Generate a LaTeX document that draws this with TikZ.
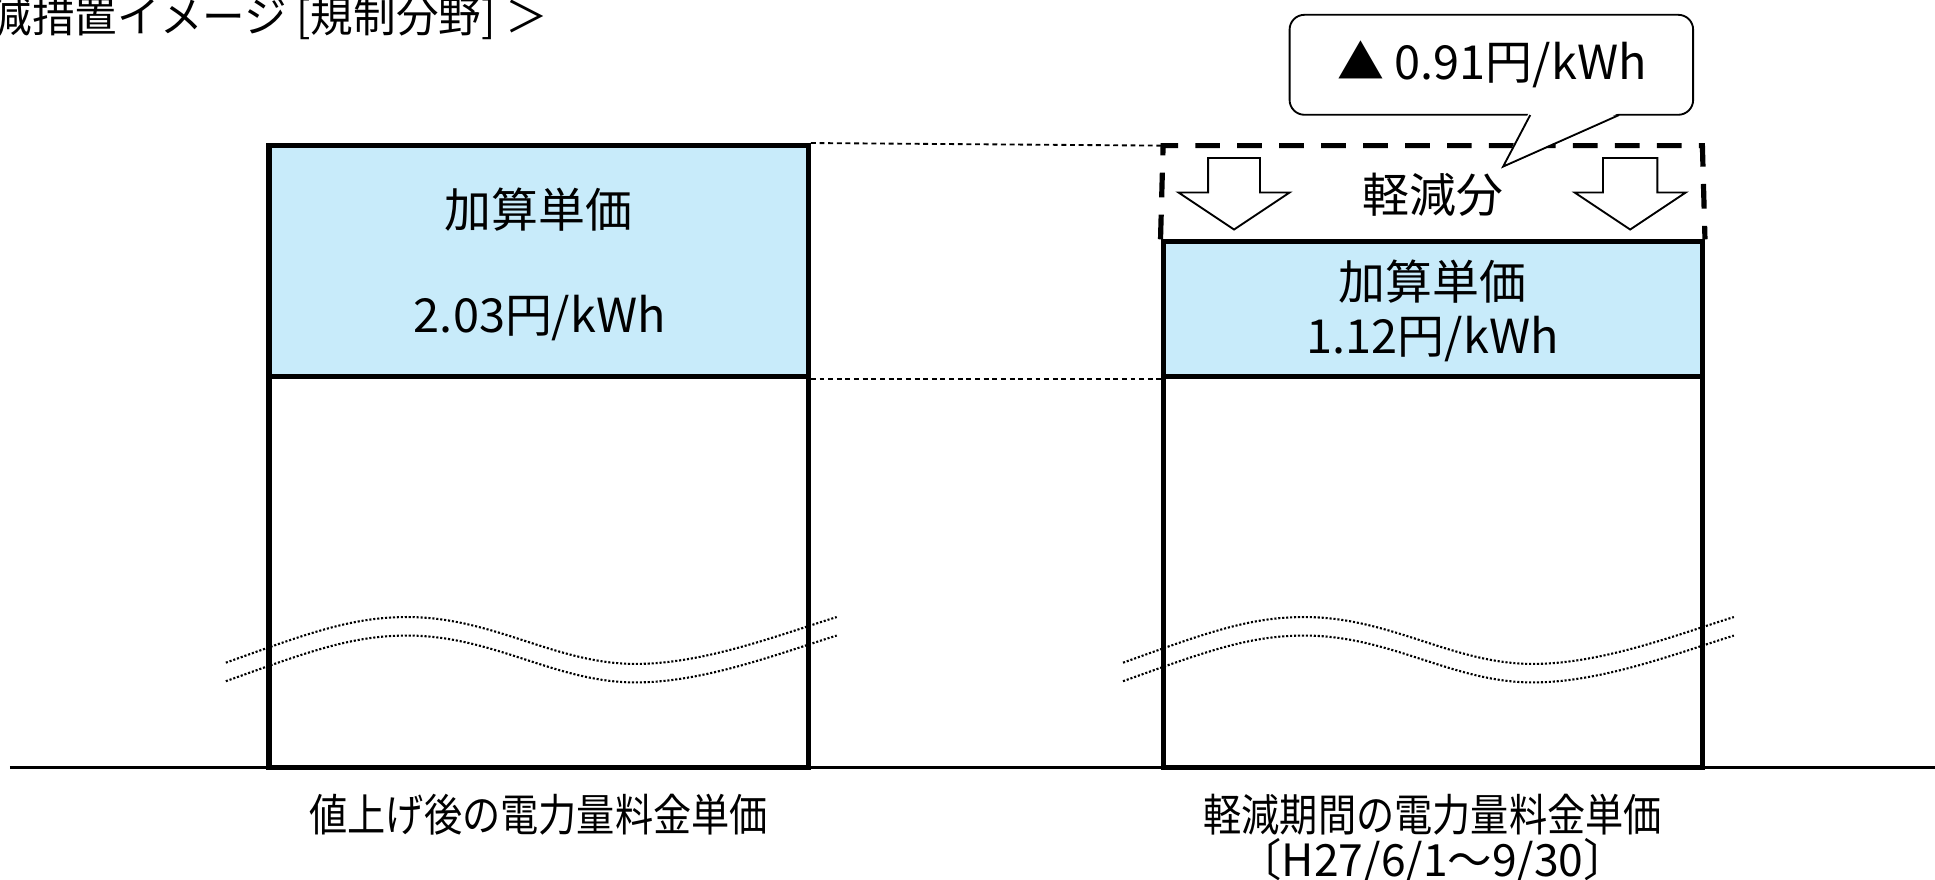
\documentclass[tikz,border=0pt]{standalone}
\usepackage{fontspec}
\setmainfont{Noto Sans CJK JP}
\definecolor{addblue}{RGB}{200,235,250}
\begin{document}
\begin{tikzpicture}[x=1pt,y=-1pt,
  bluebox/.style={draw,line width=4.2pt,fill=addblue,inner sep=0pt,minimum width=437pt},
  whitebox/.style={draw,line width=4.2pt,fill=white,inner sep=0pt,minimum width=437pt,minimum height=317pt},
  lbl/.style={inner sep=0pt,font=\fontsize{38}{44}\selectfont},
  titlelbl/.style={inner sep=0pt,font=\fontsize{34.5}{40}\selectfont},
  botlbl/.style={inner sep=0pt,font=\fontsize{36}{42}\selectfont},
  thindash/.style={line width=1.5pt,dash pattern=on 4pt off 3pt},
  bigdash/.style={line width=4.2pt,dash pattern=on 20pt off 14pt},
  wave/.style={line width=1.7pt,dash pattern=on 1.7pt off 1.5pt},
  blockarrow/.style={draw,line width=1.5pt,fill=white,line join=miter}]
\useasboundingbox (0,0) rectangle (1568,713);
% title (cut at the page edge, as in the reference)
\begin{scope}
\clip (0,0) rectangle (1568,713);
\node[titlelbl,anchor=east] (title) at (444,15) {減措置イメージ [規制分野] ＞};
\end{scope}
% baseline
\coordinate (bl0) at (8,622);
\coordinate (bl1) at (1568,622);
\draw[line width=2.5pt] (bl0) -- (bl1);
% left column
\node[bluebox,minimum height=187pt] (lt) at (436.5,211.5) {};
\node[whitebox] (lb) at (436.5,463.5) {};
\node[lbl] (lt1) at (436.5,170) {加算単価};
\node[lbl] (lt2) at (437.5,258) {2.03円/kWh};
% right column
\node[bluebox,minimum height=109pt] (rt) at (1161,250.5) {};
\node[whitebox] (rb) at (1161,463.5) {};
\node[lbl] (rt1) at (1161,228) {加算単価};
\node[lbl] (rt2) at (1161,275) {1.12円/kWh};
% dashed reduced part
\coordinate (dtl) at (942.5,118);
\coordinate (dtr) at (1379.5,118);
\draw[bigdash] (rt.north west) -- (dtl) -- (dtr) -- (rt.north east);
\node[lbl] (red) at (1161,158) {軽減分};
% connectors
\draw[thindash] (lt.north east) -- (dtl);
\draw[thindash] (lt.south east) -- (rt.south west);
% block arrows
\draw[blockarrow] (979,128) -- (1021,128) -- (1021,156) -- (1045,156) -- (1000,186) -- (955,156) -- (979,156) -- cycle;
\draw[blockarrow] (1299,128) -- (1343,128) -- (1343,156) -- (1366,156) -- (1321,186) -- (1276,156) -- (1299,156) -- cycle;
% waves
\foreach \dx in {0,727}{
  \foreach \dy in {0,15}{
    \draw[wave,shift={(\dx,\dy)}] (183,537) .. controls (250,513) and (285,500) .. (330,500)
      .. controls (400,500) and (450,538) .. (515,538)
      .. controls (570,538) and (630,515) .. (678,500);
  }
}
% callout
\node[draw,line width=1.5pt,fill=white,rounded corners=12pt,minimum width=327pt,minimum height=81pt,inner sep=0pt] (cb) at (1208.5,52.5) {};
\coordinate (ptip) at (1218,135);
\fill[white] (1239,91) -- (ptip) -- (1313,91) -- cycle;
\draw[line width=1.5pt,line join=miter] (1240,93.2) -- (ptip) -- (1312,93.2);
\node[lbl] (cbt) at (1209,52) {▲ 0.91円/kWh};
% bottom labels
\node[botlbl] (lcap) at (436.5,660) {\scalebox{0.86}[1]{値上げ後の電力量料金単価}};
\node[botlbl] (rcap) at (1161,660) {\scalebox{0.86}[1]{軽減期間の電力量料金単価}};
\node[botlbl] (rper) at (1161,698) {〔H27/6/1～9/30〕};
\end{tikzpicture}
\end{document}
